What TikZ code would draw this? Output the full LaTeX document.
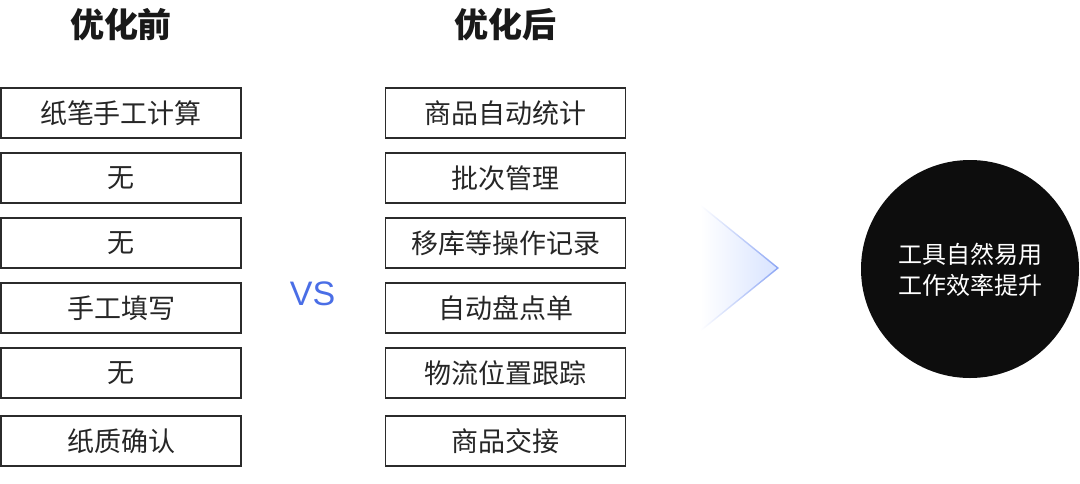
\documentclass[tikz,border=0pt]{standalone}
\usepackage{fontspec}
\setmainfont{Noto Sans CJK SC}
\newfontfamily\vsfont{Liberation Sans}
\usepackage{tikz}
\usetikzlibrary{positioning}

\definecolor{vsblue}{HTML}{4A6EE6}
\definecolor{chevfill}{HTML}{D9E4FF}
\definecolor{chevline}{HTML}{8AA4F4}
\definecolor{boxline}{HTML}{2B2B2B}
\definecolor{dot}{HTML}{0D0D0D}

\begin{document}
\begin{tikzpicture}[
  x=1pt, y=-1pt,
  % column titles
  title/.style={font=\fontsize{34}{38}\selectfont\bfseries, text=black!90, inner sep=0pt},
  % comparison boxes
  item/.style={draw=boxline, line width=1.4pt, fill=white,
               minimum width=240pt, minimum height=50pt, inner sep=0pt,
               font=\fontsize{27}{30}\selectfont, text=black!85},
  % result circle
  result/.style={circle, fill=dot, minimum size=218pt, inner sep=0pt,
                 text=white, align=center,
                 font=\fontsize{24}{31}\selectfont},
]
\useasboundingbox (0,0) rectangle (1080,483);

% ── Column X positions ────────────────────────────────────────────────
\def\xB{121}    % before
\def\xA{505.5}  % after

% ── Titles ───────────────────────────────────────────────────────────
\node[title] (titleB) at (\xB,25) {优化前};
\node[title] (titleA) at (\xA,25) {优化后};

% ── Before column ────────────────────────────────────────────────────
\node[item] (before1) at (\xB,113) {纸笔手工计算};
\node[item] (before2) at (\xB,178) {无};
\node[item] (before3) at (\xB,243) {无};
\node[item] (before4) at (\xB,308) {手工填写};
\node[item] (before5) at (\xB,373) {无};
\node[item] (before6) at (\xB,441) {纸质确认};

% ── After column ─────────────────────────────────────────────────────
\node[item] (after1) at (\xA,113) {商品自动统计};
\node[item] (after2) at (\xA,178) {批次管理};
\node[item] (after3) at (\xA,243) {移库等操作记录};
\node[item] (after4) at (\xA,308) {自动盘点单};
\node[item] (after5) at (\xA,373) {物流位置跟踪};
\node[item] (after6) at (\xA,441) {商品交接};

% ── VS ───────────────────────────────────────────────────────────────
\node[text=vsblue, font=\vsfont\fontsize{34}{36}\selectfont, inner sep=0pt]
  (vs) at (312.5,294) {VS};

% ── Chevron (edge = outer shade, fill = inner shade) ─────────────────
\shade[left color=white, right color=chevline]
  (700,204) -- (779,268) -- (700,332) -- cycle;
\shade[left color=white, right color=chevfill]
  (700,206) -- (776.5,268) -- (700,330) -- cycle;

% ── Result ───────────────────────────────────────────────────────────
\node[result] (result) at (970,269) {\\[-9pt]工具自然易用\\工作效率提升};

\end{tikzpicture}
\end{document}
